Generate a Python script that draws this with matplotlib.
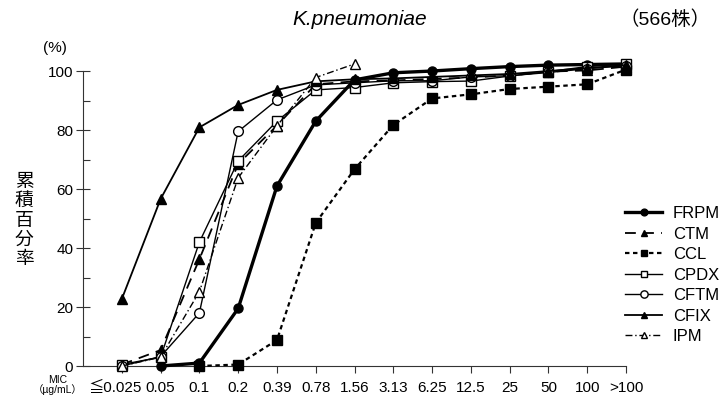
import matplotlib
matplotlib.use("Agg")
import matplotlib.pyplot as plt
from matplotlib.ticker import MultipleLocator
from matplotlib.transforms import ScaledTranslation

plt.rcParams['font.family'] = ['Liberation Sans', 'DejaVu Sans', 'Noto Sans CJK JP']

categories = ["≦0.025", "0.05", "0.1", "0.2", "0.39", "0.78", "1.56", "3.13",
              "6.25", "12.5", "25", "50", "100", ">100"]

frpm = [None, 0, 1, 19.5, 61, 83, 97, 99.4, 100, 100.8, 101.5, 102, 102.2, 102.4]
ctm  = [0.5, 5.4, 36.2, 68.5, 81.5, 95.5, 96.5, 96.8, 97.3, 97.8, 98.5, 99.8, 100.2, 101.5]
ccl  = [None, None, 0, 0.5, 8.8, 48.5, 66.7, 81.7, 90.7, 92.1, 93.9, 94.7, 95.5, 100.5]
cpdx = [0.5, 3, 42, 69.5, 83, 93.6, 94.4, 96, 96.4, 96.6, 98.3, 99.8, 101.5, 102.4]
cftm = [0, 3.2, 18, 79.5, 90.2, 95.3, 96, 96.7, 96.7, 98, 98.4, 99.5, 100.8, 101.8]
cfix = [22.7, 56.6, 80.9, 88.5, 93.6, 96.5, 97.2, 97.5, 98, 98.5, 99, 100, 101, 102]
ipm  = [0, 3, 25.2, 63.8, 81.4, 97.8, 102.4, None, None, None, None, None, None, None]

series_names = ["FRPM", "CTM", "CCL", "CPDX", "CFTM", "CFIX", "IPM"]
series_vals = [frpm, ctm, ccl, cpdx, cftm, cfix, ipm]

styles = {
    "FRPM": dict(ls='-', lw=2.4, marker='o', ms=6.5, mfc='black', mec='black'),
    "CTM": dict(ls=(0, (6, 4)), lw=1.3, marker='^', ms=6.5, mfc='black', mec='black'),
    "CCL": dict(ls=(0, (2, 1.6)), lw=1.6, marker='s', ms=6.5, mfc='black', mec='black'),
    "CPDX": dict(ls='-', lw=1.0, marker='s', ms=6.5, mfc='white', mec='black'),
    "CFTM": dict(ls='-', lw=1.0, marker='o', ms=7, mfc='white', mec='black'),
    "CFIX": dict(ls='-', lw=1.3, marker='^', ms=6.5, mfc='black', mec='black'),
    "IPM": dict(ls=(0, (5, 2, 1, 2)), lw=1.0, marker='^', ms=6.5, mfc='white', mec='black'),
}

fig = plt.figure(figsize=(7.27, 4.07), dpi=100)
ax = fig.add_axes([0.1142, 0.1007, 0.7469, 0.7248])

xs = list(range(len(categories)))
handles = []
for name, vals in zip(series_names, series_vals):
    px = [x for x, v in zip(xs, vals) if v is not None]
    py = [v for v in vals if v is not None]
    h, = ax.plot(px, py, color='black', clip_on=False, label=name, zorder=3,
                 **styles[name])
    handles.append(h)

ax.set_xlim(-1, 13)
ax.set_ylim(0, 100)
ax.spines['top'].set_visible(False)
ax.spines['right'].set_visible(False)
for s in ['left', 'bottom']:
    ax.spines[s].set_linewidth(0.8)
    ax.spines[s].set_color('#333333')

ax.set_xticks(xs)
ax.set_xticklabels(categories, fontsize=11)
ax.set_yticks(range(0, 101, 20))
ax.set_yticklabels([str(v) for v in range(0, 101, 20)], fontsize=11)
ax.yaxis.set_minor_locator(MultipleLocator(10))
ax.tick_params(axis='x', direction='out', length=5, width=0.8, color='#333333', pad=6)
ax.tick_params(axis='y', which='major', direction='inout', length=10, width=0.8,
               color='#333333', pad=2)
ax.tick_params(axis='y', which='minor', direction='in', length=5, width=0.8, color='#333333')

first = ax.get_xticklabels()[0]
first.set_family(['Liberation Sans', 'Noto Sans CJK JP'])
first.set_transform(first.get_transform() + ScaledTranslation(-7 / 100, 0, fig.dpi_scale_trans))

leg = fig.legend(handles=handles, labels=series_names, loc='upper left',
                 bbox_to_anchor=(0.851, 0.51), frameon=False, fontsize=12,
                 handlelength=2.2, handletextpad=0.65, labelspacing=0.33,
                 markerscale=0.75, borderaxespad=0)

fig.text(0.495, 0.951, "K.pneumoniae", fontsize=15, style='italic', ha='center', va='center')
fig.text(0.978, 0.951, "（566株）", fontsize=14, ha='right', va='center')
fig.text(0.075, 0.882, "(%)", fontsize=11, ha='center', va='center')
fig.text(0.033, 0.457, "累\n積\n百\n分\n率", fontsize=13.5, ha='center', va='center',
         linespacing=1.17)
fig.text(0.079, 0.055, "MIC\n（µg/mL）", fontsize=7.5, ha='center', va='center',
         linespacing=0.9)

fig.savefig("out.png", dpi=100)
